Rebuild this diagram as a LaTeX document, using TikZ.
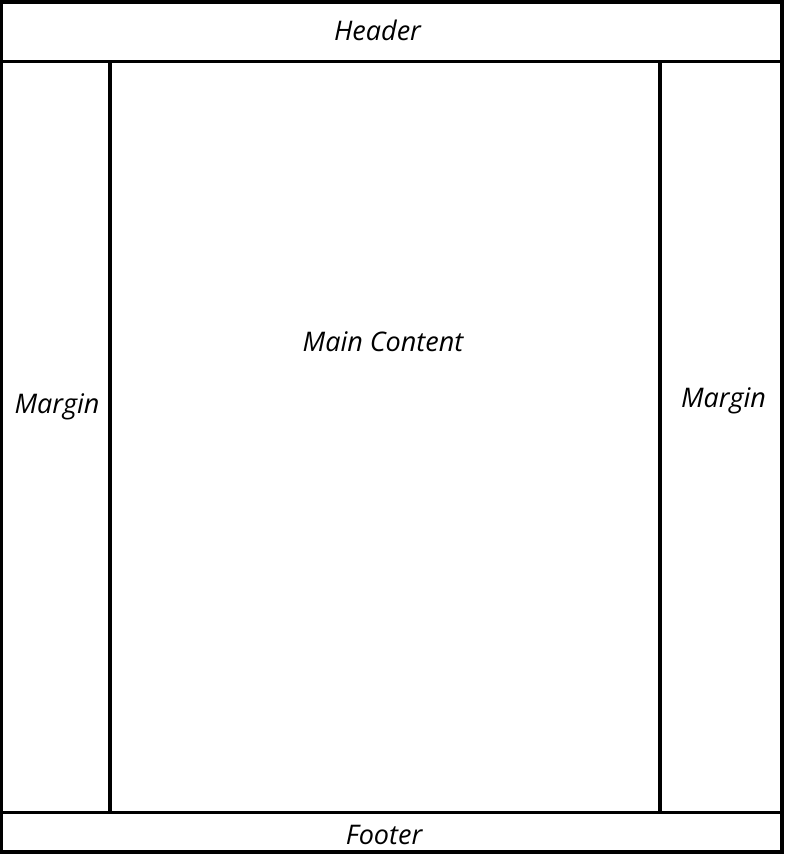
\documentclass[tikz,border=0pt]{standalone}
\usepackage{fontspec}
\setmainfont{Open Sans}
\begin{document}
\begin{tikzpicture}[x=1pt,y=-1pt,
  frame/.style={line width=3.2pt, line cap=rect},
  lbl/.style={anchor=base, inner sep=0pt, font=\fontsize{27}{32}\selectfont\itshape}]
\useasboundingbox (0,0) rectangle (788,858);
\draw[frame] (1.5,2) rectangle (782,852);
\draw[frame] (1.5,61.5) -- (782,61.5);
\draw[frame] (1.5,812.5) -- (782,812.5);
\draw[frame] (110,61.5) -- (110,812.5);
\draw[frame] (660,61.5) -- (660,812.5);
\node[lbl] (header) at (377.5,41) {Header};
\node[lbl] (main) at (383,351) {Main Content};
\node[lbl] (lmargin) at (57,413) {Margin};
\node[lbl] (rmargin) at (723.5,407) {Margin};
\node[lbl] (footer) at (384,844) {Footer};
\end{tikzpicture}
\end{document}
